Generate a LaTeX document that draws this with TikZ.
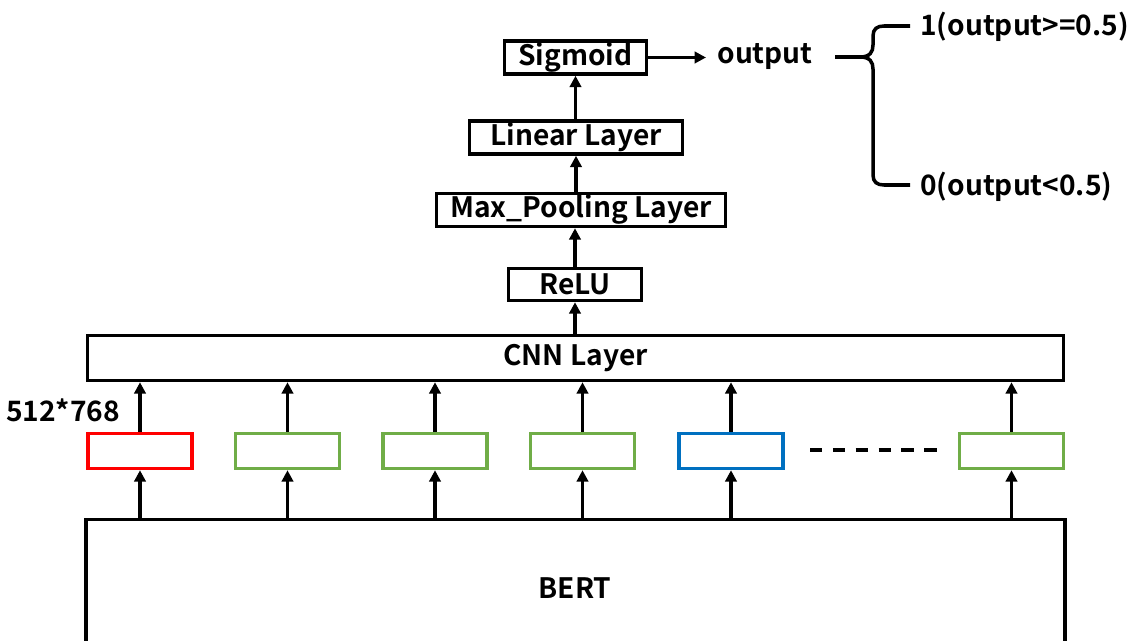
\documentclass[tikz,border=0pt]{standalone}
\usepackage{fontspec}
\setmainfont{Noto Sans CJK JP}[BoldFont={* Bold}]
\usetikzlibrary{arrows.meta}
\definecolor{boxred}{HTML}{FF0000}
\definecolor{boxgreen}{HTML}{70AD47}
\definecolor{boxblue}{HTML}{0070C0}
\newlength{\pxu}\setlength{\pxu}{0.02cm}
\tikzset{
  px/.style={x=0.02cm,y=-0.02cm},
  txt/.style={font=\fontsize{16}{18}\selectfont\bfseries,inner sep=0pt},
  layer/.style={txt,draw=black,line width=2pt},
  vec/.style={draw=#1,line width=2pt,minimum width=104\pxu,minimum height=35\pxu,inner sep=0pt},
  flow/.style={line width=2pt,-{Triangle[length=6.5pt,width=6.5pt]}},
}
\begin{document}
\begin{tikzpicture}[px]
\useasboundingbox (0,0) rectangle (1143,641);
% layer stack
\node[layer,minimum width=142\pxu,minimum height=33\pxu] (sig) at (575.5,57.5) {Sigmoid};
\node[layer,minimum width=213\pxu,minimum height=33\pxu] (lin) at (576,137.5) {Linear Layer};
\node[layer,minimum width=289\pxu,minimum height=33\pxu] (pool) at (581,210) {Max\_Pooling Layer};
\node[layer,minimum width=133\pxu,minimum height=32\pxu] (relu) at (575,284.5) {ReLU};
\node[layer,minimum width=976\pxu,minimum height=45\pxu] (cnn) at (575.5,358) {CNN Layer};
% BERT block, open at the bottom
\draw[line width=2pt] (86,660) -- (86,519.5) -- (1065,519.5) -- (1065,660);
\node[txt] (bert) at (575,588) {BERT};
\coordinate (bt) at (575,519.5);
% token vectors
\node[vec=boxred]   (v1) at (140,451) {};
\node[vec=boxgreen] (v2) at (287.5,451) {};
\node[vec=boxgreen] (v3) at (435,451) {};
\node[vec=boxgreen] (v4) at (582.5,451) {};
\node[vec=boxblue]  (v5) at (731,451) {};
\node[vec=boxgreen] (v6) at (1011.5,451) {};
\coordinate (d1) at (810,450);
\coordinate (d2) at (939,450);
\draw[line width=2pt,dash pattern=on 7pt off 6pt] (d1) -- (d2);
\node[txt] (dim) at (63,410) {512*768};
\foreach \v in {v1,v2,v3,v4,v5,v6}{
  \draw[flow] (\v.south |- bt) -- (\v.south);
  \draw[flow] (\v.north) -- (\v.north |- cnn.south);
}
% stack arrows
\draw[flow] (cnn.north -| relu.south) -- (relu.south);
\draw[flow] (relu.north) -- (relu.north |- pool.south);
\draw[flow] (pool.north -| lin.south) -- (lin.south);
\draw[flow] (lin.north -| sig.south) -- (sig.south);
% output and threshold
\node[txt] (out) at (765,57) {output};
\draw[flow] (sig.east) -- (706,57.5);
\coordinate (bs) at (835,57);
\coordinate (btop) at (910,26);
\coordinate (bbot) at (910,185);
\draw[line width=2pt] (bs) -- (860,57) .. controls (870,57) and (873,52) .. (873,45)
  -- (873,36) .. controls (873,29) and (877,26) .. (884,26) -- (btop);
\draw[line width=2pt] (860,57) .. controls (870,57) and (873,62) .. (873,69)
  -- (873,175) .. controls (873,182) and (877,185) .. (884,185) -- (bbot);
\node[txt,anchor=west] (one) at (920,27) {1(output>=0.5)};
\node[txt,anchor=west] (zero) at (920,187) {0(output<0.5)};
\end{tikzpicture}
\end{document}
